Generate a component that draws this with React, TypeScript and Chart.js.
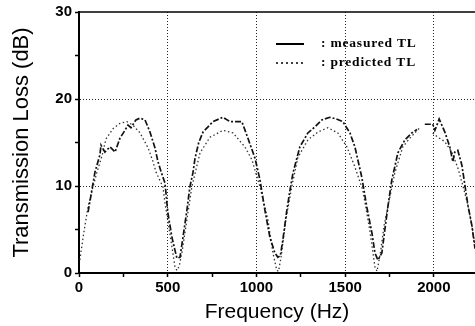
import { useEffect, useRef } from 'react';
import { Chart, registerables } from 'chart.js';

Chart.register(...registerables);

const measuredFreq = [51, 68, 90, 118, 124, 146, 175, 203, 231, 259, 276, 293, 321, 344, 372, 400, 428, 445, 465, 485, 501, 524, 541, 552, 569, 586, 608, 625, 642, 654, 675, 699, 755, 811, 851, 879, 918, 945, 992, 1020, 1048, 1076, 1104, 1121, 1135, 1149, 1170, 1189, 1206, 1245, 1290, 1330, 1369, 1414, 1450, 1487, 1527, 1555, 1594, 1622, 1651, 1668, 1685, 1707, 1724, 1741, 1763, 1780, 1797, 1837, 1876, 1905, 1930, 1949, 1994, 2006, 2030, 2062, 2090, 2107, 2118, 2135, 2158, 2175, 2192, 2214, 2232];
const measuredTL = [7.0, 9.0, 11.6, 13.6, 14.7, 13.9, 14.5, 13.9, 15.5, 16.4, 17.0, 16.7, 17.6, 17.8, 17.6, 16.2, 14.4, 12.8, 11.5, 10.3, 6.9, 4.1, 2.6, 1.7, 1.8, 4.1, 7.2, 9.9, 11.5, 13.2, 15.0, 16.2, 17.4, 17.9, 17.4, 17.4, 17.4, 15.9, 13.2, 10.7, 7.2, 4.1, 2.3, 1.8, 2.0, 3.8, 7.0, 9.5, 11.5, 14.5, 16.1, 16.8, 17.6, 17.9, 17.7, 17.4, 16.1, 14.5, 11.0, 7.6, 4.6, 2.3, 1.5, 2.3, 5.0, 7.6, 10.7, 12.2, 13.8, 15.3, 16.1, 16.5, null, 17.1, 17.1, 16.4, 17.7, 16.2, 14.5, 12.8, 13.9, 14.1, 12.4, 10.1, 7.8, 5.5, 2.8];

const predictedFreq = [5, 11, 30, 51, 79, 100, 130, 152, 192, 231, 270, 304, 344, 389, 417, 434, 473, 485, 501, 520, 541, 552, 565, 580, 608, 636, 682, 738, 811, 868, 935, 975, 1020, 1065, 1093, 1115, 1125, 1140, 1165, 1200, 1234, 1290, 1346, 1403, 1459, 1510, 1555, 1600, 1639, 1668, 1680, 1700, 1720, 1741, 1780, 1825, 1865, 1893, 1921, 1960, 1994, 2023, 2062, 2101, 2135, 2163, 2192, 2214, 2232];
const predictedTL = [1.5, 2.4, 5.0, 7.6, 9.9, 11.5, 13.5, 15.4, 16.6, 17.2, 17.4, 17.0, 16.1, 14.4, 12.8, 11.6, 9.9, 8.0, 6.0, 3.5, 0.7, 0.3, 0.8, 2.3, 6.1, 9.9, 13.8, 15.6, 16.4, 16.1, 14.5, 13.0, 9.9, 6.1, 2.3, 0.3, 0.2, 2.0, 6.0, 10.0, 13.3, 15.3, 16.2, 16.7, 16.1, 14.5, 12.2, 9.5, 4.9, 0.7, 0.2, 2.5, 5.5, 7.6, 11.5, 14.5, 15.5, 16.1, 16.7, null, 16.1, 15.6, 15.1, 13.9, 12.1, 10.1, 7.8, 5.5, 3.2];

const xMin = 0;
const xMax = 2232;
const xTicks = [0, 250, 500, 750, 1000, 1250, 1500, 1750, 2000];
const xLabelTicks = [0, 500, 1000, 1500, 2000];
const yMin = 0;
const yMax = 30;
const yTicks = [0, 5, 10, 15, 20, 25, 30];
const yLabelTicks = [0, 10, 20, 30];

const legendLabels = [': measured TL', ': predicted TL'];

const toPoints = (xs: number[], ys: (number | null)[]) => xs.map((x, i) => ({ x, y: ys[i] }));

const overlayPlugin = {
  id: 'overlay',
  afterDraw(chart: any) {
    const { ctx, chartArea } = chart;
    ctx.save();
    ctx.strokeStyle = '#000';
    ctx.lineWidth = 1.5;
    ctx.beginPath();
    ctx.moveTo(chartArea.left, chartArea.top);
    ctx.lineTo(chartArea.right, chartArea.top);
    ctx.stroke();

    const lx0 = 276;
    const lx1 = 304;
    const tx = 321;
    const rows = [44, 63];
    ctx.lineWidth = 2;
    ctx.strokeStyle = '#000';
    ctx.setLineDash([]);
    ctx.beginPath();
    ctx.moveTo(lx0, rows[0]);
    ctx.lineTo(lx1, rows[0]);
    ctx.stroke();
    ctx.lineWidth = 1.6;
    ctx.setLineDash([2, 3]);
    ctx.beginPath();
    ctx.moveTo(lx0, rows[1]);
    ctx.lineTo(lx1 + 2, rows[1]);
    ctx.stroke();
    ctx.setLineDash([]);
    ctx.fillStyle = '#000';
    ctx.font = 'bold 13.5px "Liberation Serif", "Times New Roman", serif';
    (ctx as any).letterSpacing = '0.8px';
    ctx.textBaseline = 'middle';
    ctx.textAlign = 'left';
    ctx.fillText(legendLabels[0], tx, rows[0]);
    ctx.fillText(legendLabels[1], tx, rows[1]);
    ctx.restore();
  },
};

export default function App() {
  const ref = useRef<HTMLCanvasElement | null>(null);

  useEffect(() => {
    if (!ref.current) return;
    const tickFont = { family: '"Liberation Sans", Arial, sans-serif', size: 15, weight: 'bold' as const };
    const xTitleFont = { family: '"Liberation Sans", Arial, sans-serif', size: 21 };
    const yTitleFont = { family: '"Liberation Sans", Arial, sans-serif', size: 22 };
    const chart = new Chart(ref.current, {
      type: 'line',
      data: {
        datasets: [
          {
            label: 'measured TL',
            data: toPoints(measuredFreq, measuredTL),
            borderColor: '#111',
            borderWidth: 1.7,
            borderDash: [6, 2, 2, 2],
            pointRadius: 0,
            fill: false,
            tension: 0,
            spanGaps: false,
          },
          {
            label: 'predicted TL',
            data: toPoints(predictedFreq, predictedTL),
            borderColor: '#333',
            borderWidth: 1.3,
            borderDash: [1.5, 2.5],
            pointRadius: 0,
            fill: false,
            tension: 0,
            spanGaps: false,
          },
        ],
      },
      options: {
        responsive: false,
        animation: false,
        layout: { padding: { top: 12, right: 0, left: 0, bottom: 0 } },
        plugins: {
          legend: { display: false },
          tooltip: { enabled: false },
          title: { display: false },
        },
        scales: {
          x: {
            type: 'linear',
            min: xMin,
            max: xMax,
            afterBuildTicks: (s: any) => {
              s.ticks = xTicks.map((v) => ({ value: v }));
            },
            ticks: {
              autoSkip: false,
              maxRotation: 0,
              color: '#000',
              font: tickFont,
              padding: 2,
              callback: (v: any) => (xLabelTicks.includes(Number(v)) ? String(v) : ''),
            },
            grid: {
              color: (c: any) => {
                const v = c.tick ? c.tick.value : -1;
                return v > 0 && xLabelTicks.includes(v) ? '#222' : 'rgba(0,0,0,0)';
              },
              lineWidth: 1,
              tickColor: '#000',
              tickLength: 4,
              tickWidth: 1.5,
            },
            border: { color: '#000', width: 2, dash: [1, 2] },
            title: {
              display: true,
              text: 'Frequency (Hz)',
              color: '#000',
              font: xTitleFont,
              padding: { top: 0, bottom: 1 },
            },
            afterFit: (s: any) => {
              s.height = 53;
            },
          },
          y: {
            type: 'linear',
            min: yMin,
            max: yMax,
            afterBuildTicks: (s: any) => {
              s.ticks = yTicks.map((v) => ({ value: v }));
            },
            ticks: {
              autoSkip: false,
              color: '#000',
              font: tickFont,
              padding: 3,
              callback: (v: any) => (yLabelTicks.includes(Number(v)) ? String(v) : ''),
            },
            grid: {
              color: (c: any) => {
                const v = c.tick ? c.tick.value : -1;
                return v > 0 && v < yMax && yLabelTicks.includes(v) ? '#222' : 'rgba(0,0,0,0)';
              },
              lineWidth: 1,
              tickColor: '#000',
              tickLength: 4,
              tickWidth: 1.5,
            },
            border: { color: '#000', width: 2, dash: [1, 2] },
            title: {
              display: true,
              text: 'Transmission Loss (dB)',
              color: '#000',
              font: yTitleFont,
              padding: { top: 9, bottom: 0 },
            },
            afterFit: (s: any) => {
              s.width = 79;
            },
          },
        },
      },
      plugins: [overlayPlugin],
    });
    return () => chart.destroy();
  }, []);

  return (
    <div style={{ position: 'absolute', left: 0, top: 0, width: 475, height: 326, background: '#fff' }}>
      <canvas ref={ref} width={475} height={326} style={{ display: 'block' }} />
    </div>
  );
}
